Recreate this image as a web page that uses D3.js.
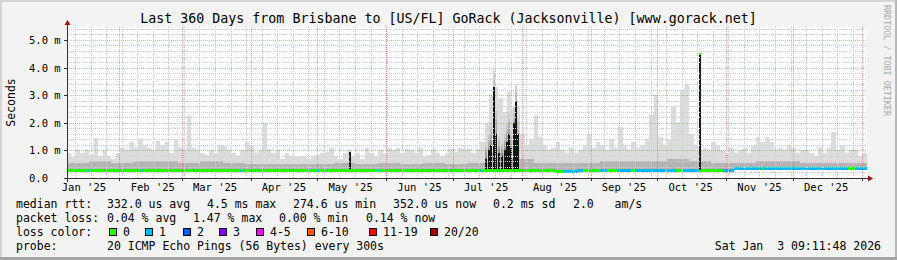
<!DOCTYPE html>
<html>
<head>
<meta charset="utf-8">
<script src="https://cdn.jsdelivr.net/npm/d3@7"></script>
<style>
body{margin:0;background:#f3f3f3}
text{font-family:"DejaVu Sans Mono",monospace}
</style>
</head>
<body>
<div id="chart"></div>
<script>
// values (1 year view)
var title = "Last 360 Days from Brisbane to [US/FL] GoRack (Jacksonville) [www.gorack.net]";
var startTime = Date.UTC(2025, 0, 8, 9, 11, 48);   // brisbane local time, kept as utc
var spanDays = 360;
var yTicks = [0, 1, 2, 3, 4, 5];
var yTickLabels = ["0.0", "1.0 m", "2.0 m", "3.0 m", "4.0 m", "5.0 m"];

// outer smoke (max) in ms, one value per 2 days
var smokeMax = [
	0.9,0.75,1.0,0.9,1.0,0.85,1.45,0.8,1.0,0.75,
	0.7,0.9,1.1,1.0,1.3,1.1,1.4,1.2,1.1,1.0,
	1.35,1.2,1.3,0.9,1.4,1.1,1.0,2.25,1.1,1.0,
	0.9,0.85,1.0,0.9,1.2,1.15,1.0,0.9,0.8,1.0,
	1.3,1.15,0.9,1.0,2.0,1.05,0.9,1.0,0.7,0.9,
	0.8,0.75,0.8,0.75,0.7,0.8,0.85,0.9,0.95,1.1,
	0.8,0.7,0.9,1.0,0.8,0.9,0.7,1.1,0.9,0.8,
	1.0,0.9,1.1,1.0,1.1,0.9,1.05,1.0,0.9,1.1,
	0.8,0.85,1.0,0.9,0.8,0.9,1.05,0.95,1.1,1.0,
	1.05,0.9,1.0,1.3,2.0,3.0,3.3,2.9,2.4,3.1,
	2.5,2.6,1.6,1.2,1.4,2.3,1.5,1.2,1.0,1.1,
	1.3,1.0,0.9,1.1,0.9,1.0,1.2,1.6,1.1,1.3,
	1.2,1.0,1.4,1.1,1.85,1.2,1.0,1.3,1.1,1.2,
	1.4,2.3,3.0,1.5,1.2,1.4,2.6,2.0,3.2,3.4,
	1.6,1.2,1.0,1.1,1.0,1.3,1.2,1.0,0.9,1.1,
	0.9,1.0,1.1,0.9,1.2,1.5,1.3,1.5,1.3,1.0,
	1.1,1.0,1.2,1.1,0.9,1.0,1.0,0.9,0.8,1.1,
	0.9,1.1,1.65,1.0,1.2,0.9,1.0,1.0,0.8,0.9
];
// inner smoke, min and median, one value per 10 days
var smokeMid = [0.55,0.6,0.55,0.6,0.6,0.55,0.6,0.55,0.5,0.5,0.5,0.5,0.55,0.5,0.55,0.5,0.55,0.5,
	0.55,0.9,0.7,0.55,0.55,0.55,0.6,0.6,0.6,0.7,0.6,0.55,0.55,0.6,0.6,0.55,0.55,0.55];
var smokeMin = [0.27,0.27,0.27,0.27,0.27,0.27,0.27,0.27,0.27,0.27,0.27,0.27,0.27,0.27,0.27,0.27,0.27,0.27,
	0.27,0.27,0.27,0.27,0.25,0.27,0.27,0.27,0.27,0.25,0.27,0.27,0.31,0.31,0.31,0.31,0.31,0.31];
var medianMs = [0.30,0.30,0.30,0.30,0.30,0.30,0.30,0.30,0.30,0.30,0.30,0.30,0.30,0.30,0.30,0.30,0.30,0.30,
	0.30,0.30,0.30,0.30,0.27,0.30,0.30,0.30,0.30,0.28,0.30,0.30,0.35,0.35,0.35,0.35,0.35,0.35];

var lossColors = ["#26ff00", "#00b8ff", "#0059ff", "#7e00ff", "#ff00ff", "#ff5500", "#ff0000", "#a10000"];
var lossLabels = ["0", "1", "2", "3", "4-5", "6-10", "11-19", "20/20"];
// [from day, to day] where the median shows 1 lost ping (blue), green elsewhere
var lossSpans = [
	[9.3,10],[33.6,34.4],[56.5,57.3],[77.7,78.5],[84.4,85.2],[101.5,102.3],[112.8,113.6],
	[139.8,140.6],[164.5,165.3],[185.7,186.5],[193.3,194.1],[215.8,216.6],[223,232],[236.5,237.3],
	[240,243],[248,254],[256,274],[277,284.5],[295,312.6],[313.4,325.6],[326.4,351.5],[354.5,360]
];

// dark smoke columns (may + july)
var darkDays = [127.4, 188.6, 190, 191, 192.2, 193.1, 194.4, 195.8, 197.1, 198, 198.9, 199.8, 201.2, 202, 203];
var darkTops = [0.95, 0.7, 1.0, 1.2, 3.3, 1.6, 0.9, 0.8, 1.0, 1.3, 1.6, 1.1, 2.0, 2.8, 1.6];
var darkHalo = [0.95, 1.2, 1.6, 2.0, 3.9, 2.6, 1.5, 1.3, 1.6, 2.0, 2.4, 1.8, 2.6, 3.4, 2.2];
// october spike of the median
var spikeDay = 284.8, spikeMs = 4.5;

var rttLabel = "median rtt:";
var rttStats = ["332.0 us avg", "4.5 ms max", "274.6 us min", "352.0 us now", "0.2 ms sd", "2.0   am/s"];
var lossLabel = "packet loss:";
var lossStats = ["0.04 % avg", "1.47 % max", "0.00 % min", "0.14 % now"];
var probeText = "20 ICMP Echo Pings (56 Bytes) every 300s";
var stampText = "Sat Jan  3 09:11:48 2026";

var W = 897, H = 260;
var pLeft = 67, pRight = 867, pBottom = 178, pTop = 27;

var svg = d3.select("#chart").append("svg")
	.attr("width", W)
	.attr("height", H);

svg.append("rect").attr("width", W).attr("height", H).attr("fill", "#f3f3f3");
// 3d-ish frame
svg.append("rect").attr("x", 0).attr("y", 0).attr("width", W).attr("height", 2).attr("fill", "#d4d4d4");
svg.append("rect").attr("x", 0).attr("y", 0).attr("width", 2).attr("height", H).attr("fill", "#d4d4d4");
svg.append("rect").attr("x", W - 2).attr("y", 0).attr("width", 2).attr("height", H).attr("fill", "#b8b8b8");
svg.append("rect").attr("x", 0).attr("y", H - 3).attr("width", W).attr("height", 3).attr("fill", "#a4a4a4");

function dayDate(d) { return new Date(startTime + d * 864e5); }

var x = d3.scaleUtc()
	.domain([dayDate(0), dayDate(spanDays)])
	.range([pLeft, pRight]);
var y = d3.scaleLinear()
	.domain([0, 5.47])
	.range([pBottom, pTop]);

svg.append("rect")
	.attr("x", pLeft).attr("y", pTop)
	.attr("width", pRight - pLeft).attr("height", pBottom - pTop)
	.attr("fill", "#ffffff");

var plot = svg.append("g").attr("shape-rendering", "crispEdges");

// outer smoke
plot.selectAll("rect.smoke")
	.data(smokeMax)
	.enter()
	.append("rect")
	.attr("class", "smoke")
	.attr("x", function(v, i) { return x(dayDate(i * 2)); })
	.attr("width", function(v, i) { return x(dayDate(i * 2 + 2)) - x(dayDate(i * 2)); })
	.attr("y", function(v) { return y(v); })
	.attr("height", function(v, i) { return y(smokeMin[Math.floor(i / 5)]) - y(v); })
	.attr("fill", "#dcdcdc");

// inner smoke
plot.selectAll("rect.mid")
	.data(smokeMid)
	.enter()
	.append("rect")
	.attr("class", "mid")
	.attr("x", function(v, i) { return x(dayDate(i * 10)); })
	.attr("width", function(v, i) { return x(dayDate(i * 10 + 10)) - x(dayDate(i * 10)); })
	.attr("y", function(v) { return y(v); })
	.attr("height", function(v, i) { return y(smokeMin[i]) - y(v); })
	.attr("fill", "#b4b4b4");

// dark smoke, grey fade above a black core
var defs = svg.append("defs");
var grad = defs.append("linearGradient").attr("id", "fade")
	.attr("x1", 0).attr("y1", 1).attr("x2", 0).attr("y2", 0);
grad.append("stop").attr("offset", "0").attr("stop-color", "#3a3a3a");
grad.append("stop").attr("offset", "1").attr("stop-color", "#d8d8d8");

plot.selectAll("rect.halo")
	.data(darkDays)
	.enter()
	.append("rect")
	.attr("class", "halo")
	.attr("x", function(d) { return Math.round(x(dayDate(d))) - 1; })
	.attr("width", 2)
	.attr("y", function(d, i) { return y(darkHalo[i]); })
	.attr("height", function(d, i) { return y(0.3) - y(darkHalo[i]); })
	.attr("fill", "url(#fade)");

plot.selectAll("rect.dark")
	.data(darkDays)
	.enter()
	.append("rect")
	.attr("class", "dark")
	.attr("x", function(d) { return Math.round(x(dayDate(d))) - 1; })
	.attr("width", 2)
	.attr("y", function(d, i) { return y(darkTops[i]); })
	.attr("height", function(d, i) { return y(0.3) - y(darkTops[i]); })
	.attr("fill", "#151515");

// median, one pixel column at a time coloured by loss
function lossAt(day) {
	for (var i in lossSpans) {
		var s = lossSpans[i];
		if (day >= s[0] && day < s[1]) return 1;
	}
	return 0;
}
function colDay(px) { return (x.invert(px + 0.5) - startTime) / 864e5; }
var cols = d3.range(pLeft + 1, pRight);
plot.selectAll("rect.med")
	.data(cols)
	.enter()
	.append("rect")
	.attr("class", "med")
	.attr("x", function(px) { return px; })
	.attr("width", 1)
	.attr("y", function(px) {
		return Math.round(y(medianMs[Math.min(35, Math.floor(colDay(px) / 10))])) - 1.5;
	})
	.attr("height", 3)
	.attr("fill", function(px) { return lossColors[lossAt(colDay(px))]; });

// the october spike
var sx = Math.round(x(dayDate(spikeDay))) - 1;
plot.append("rect").attr("x", sx).attr("width", 2)
	.attr("y", y(spikeMs)).attr("height", y(0.3) - y(spikeMs)).attr("fill", "#1a1a1a");
plot.append("rect").attr("x", sx).attr("width", 2)
	.attr("y", y(spikeMs) - 1).attr("height", 2).attr("fill", lossColors[0]);

// grid on top of the graph
var grid = svg.append("g").attr("shape-rendering", "crispEdges");
var minorY = d3.range(0.2, 5.47, 0.2).filter(function(v) { return Math.abs(v - Math.round(v)) > 0.05; });
grid.selectAll("line.hy")
	.data(minorY)
	.enter()
	.append("line")
	.attr("x1", pLeft).attr("x2", pRight)
	.attr("y1", function(v) { return Math.round(y(v)) + 0.5; })
	.attr("y2", function(v) { return Math.round(y(v)) + 0.5; })
	.attr("stroke", "#cfcfcf")
	.attr("stroke-dasharray", "1,1");

var weeks = d3.utcSunday.range(dayDate(0), dayDate(spanDays));
var months = d3.utcMonth.range(dayDate(0), dayDate(spanDays));
grid.selectAll("line.wk")
	.data(weeks)
	.enter()
	.append("line")
	.attr("x1", function(d) { return Math.round(x(d)) + 0.5; })
	.attr("x2", function(d) { return Math.round(x(d)) + 0.5; })
	.attr("y1", pTop).attr("y2", pBottom)
	.attr("stroke", "#cfcfcf")
	.attr("stroke-dasharray", "1,1");

grid.selectAll("line.my")
	.data(yTicks.slice(1))
	.enter()
	.append("line")
	.attr("x1", pLeft).attr("x2", pRight)
	.attr("y1", function(v) { return Math.round(y(v)) + 0.5; })
	.attr("y2", function(v) { return Math.round(y(v)) + 0.5; })
	.attr("stroke", "rgba(255,0,0,0.35)")
	.attr("stroke-dasharray", "1,1");

grid.selectAll("line.mo")
	.data(months)
	.enter()
	.append("line")
	.attr("x1", function(d) { return Math.round(x(d)) + 0.5; })
	.attr("x2", function(d) { return Math.round(x(d)) + 0.5; })
	.attr("y1", pTop).attr("y2", pBottom)
	.attr("stroke", "rgba(255,0,0,0.35)")
	.attr("stroke-dasharray", "1,1");

// axes
var ax = svg.append("g").attr("shape-rendering", "crispEdges");
ax.append("line").attr("x1", pLeft - 3).attr("x2", pRight + 1)
	.attr("y1", pBottom + 0.5).attr("y2", pBottom + 0.5).attr("stroke", "#333");
ax.append("line").attr("x1", pLeft + 0.5).attr("x2", pLeft + 0.5)
	.attr("y1", pBottom + 4).attr("y2", pTop - 3).attr("stroke", "#333");
ax.selectAll("line.xt")
	.data(months)
	.enter()
	.append("line")
	.attr("x1", function(d) { return Math.round(x(d)) + 0.5; })
	.attr("x2", function(d) { return Math.round(x(d)) + 0.5; })
	.attr("y1", pBottom).attr("y2", pBottom + 3)
	.attr("stroke", "#333");
ax.selectAll("line.yt")
	.data(yTicks)
	.enter()
	.append("line")
	.attr("x1", pLeft - 3).attr("x2", pLeft)
	.attr("y1", function(v) { return Math.round(y(v)) + 0.5; })
	.attr("y2", function(v) { return Math.round(y(v)) + 0.5; })
	.attr("stroke", "#333");
svg.append("path").attr("d", "M" + (pRight + 1) + "," + (pBottom - 2.5) + "L" + (pRight + 6) + "," + (pBottom + 0.5) + "L" + (pRight + 1) + "," + (pBottom + 3.5) + "Z")
	.attr("fill", "#a01010");
svg.append("path").attr("d", "M" + (pLeft - 2.5) + "," + (pTop - 2) + "L" + (pLeft + 0.5) + "," + (pTop - 7) + "L" + (pLeft + 3.5) + "," + (pTop - 2) + "Z")
	.attr("fill", "#a01010");

// tick labels
var monthLabels = d3.utcMonth.range(d3.utcMonth.floor(dayDate(0)), dayDate(spanDays))
	.map(function(m) { return d3.utcDay.offset(m, 15); })
	.filter(function(d) { return x(d) > pLeft && x(d) < pRight; });
svg.selectAll("text.xl")
	.data(monthLabels)
	.enter()
	.append("text")
	.attr("x", function(d) { return x(d); })
	.attr("y", 191)
	.attr("text-anchor", "middle")
	.attr("font-size", "10.5px")
	.text(function(d) { return d3.utcFormat("%b '%y")(d3.utcDay.offset(d, -15)); });

svg.selectAll("text.yl")
	.data(yTicks)
	.enter()
	.append("text")
	.attr("x", 29)
	.attr("y", function(v) { return y(v) + 4; })
	.attr("font-size", "10.5px")
	.text(function(v, i) { return yTickLabels[i]; });

svg.append("text")
	.attr("transform", "translate(15," + ((pTop + pBottom) / 2) + ") rotate(-90)")
	.attr("text-anchor", "middle")
	.attr("font-size", "11.5px")
	.text("Seconds");

svg.append("text")
	.attr("x", W / 2).attr("y", 23)
	.attr("text-anchor", "middle")
	.attr("font-size", "13.3px")
	.text(title);

svg.append("text")
	.attr("transform", "translate(884,5) rotate(90)")
	.attr("font-size", "8.4px")
	.attr("fill", "#a8a8a8")
	.text("RRDTOOL / TOBI OETIKER");

// legend
var leg = svg.append("g").attr("font-size", "11.5px");
var rttX = [107, 207, 293, 393, 493, 573];
var lossX = [107, 193, 279, 366];
leg.append("text").attr("x", 16).attr("y", 208).text(rttLabel);
leg.selectAll("text.r").data(rttStats).enter().append("text")
	.attr("x", function(d, i) { return rttX[i]; }).attr("y", 208)
	.style("white-space", "pre")
	.text(function(d) { return d; });
leg.append("text").attr("x", 16).attr("y", 222).text(lossLabel);
leg.selectAll("text.l").data(lossStats).enter().append("text")
	.attr("x", function(d, i) { return lossX[i]; }).attr("y", 222)
	.text(function(d) { return d; });
leg.append("text").attr("x", 16).attr("y", 236).text("loss color:");
var boxX = [109, 145, 183, 219, 256, 307, 369, 430];
leg.selectAll("rect.box").data(lossColors).enter().append("rect")
	.attr("x", function(d, i) { return boxX[i] + 0.5; }).attr("y", 228.5)
	.attr("width", 7).attr("height", 7)
	.attr("fill", function(d) { return d; })
	.attr("stroke", "#000");
leg.selectAll("text.bl").data(lossLabels).enter().append("text")
	.attr("x", function(d, i) { return boxX[i] + 14; }).attr("y", 236)
	.text(function(d) { return d; });
leg.append("text").attr("x", 16).attr("y", 250).text("probe:");
leg.append("text").attr("x", 107).attr("y", 250).text(probeText);
leg.append("text").attr("x", 881).attr("y", 250).attr("text-anchor", "end")
	.style("white-space", "pre").text(stampText);
</script>
</body>
</html>
